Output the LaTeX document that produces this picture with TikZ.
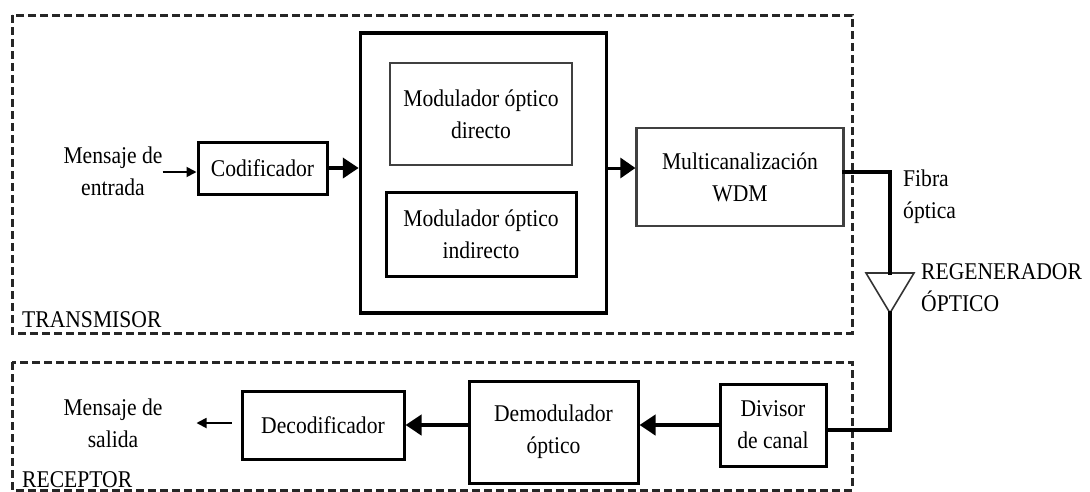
\documentclass[tikz,border=0pt]{standalone}
\usepackage{fontspec}
\setmainfont{Liberation Serif}[FakeStretch=0.9]
\usetikzlibrary{arrows.meta}
\begin{document}
\begin{tikzpicture}[x=1pt,y=-1pt,
  every node/.style={font=\fontsize{24}{32}\selectfont, align=center},
  block/.style={draw=black, line width=3pt, inner sep=2pt},
  lightblock/.style={draw=black!75, line width=2.2pt, inner sep=2pt},
  zone/.style={draw=black!85, line width=3pt, dash pattern=on 8pt off 4pt},
  label/.style={inner sep=0pt},
  bigarrow/.style={line width=4.5pt, -{Triangle[length=16pt,width=20pt]}},
  midarrow/.style={line width=3pt, -{Triangle[length=15pt,width=20pt]}},
  smallarrow/.style={line width=1.8pt, -{Triangle[length=10pt,width=10pt]}},
  fibre/.style={line width=4.5pt, line cap=rect}
]
\useasboundingbox (0,0) rectangle (1090,491);

% transmitter and receiver zones
\draw[zone] (12,15) rectangle (852,333);
\draw[zone] (12,362) rectangle (852,490);
\node[label, anchor=base west] (tx) at (22,327) {TRANSMISOR};
\node[label, anchor=base west] (rx) at (22,487) {RECEPTOR};

% transmitter chain
\node[label] (in) at (113,171) {Mensaje de\\entrada};
\node[block, minimum width=129, minimum height=52] (cod) at (262.5,168) {Codificador};
\node[draw=black, line width=3.5pt, minimum width=246, minimum height=280] (mod) at (483.5,173) {};
\node[lightblock, minimum width=182, minimum height=102] (dir) at (481,114) {Modulador óptico\\directo};
\node[block, minimum width=190, minimum height=84] (ind) at (481,234) {Modulador óptico\\indirecto};
\node[lightblock, minimum width=207, minimum height=98] (wdm) at (740,177) {Multicanalización\\WDM};

\draw[smallarrow] ([yshift=-4pt]cod.west -| in.east) -- ([yshift=-4pt]cod.west);
\draw[bigarrow] (cod.east) -- (mod.west |- cod.east);
\draw[midarrow] (mod.east |- cod.east) -- (wdm.west |- cod.east);

% fibre link and optical regenerator
\coordinate (rtop) at (890,273);
\coordinate (rtip) at (890,313);
\draw[draw=black!80, line width=1.6pt, line join=miter]
  ([xshift=-24pt]rtop) -- ([xshift=24pt]rtop) -- (rtip) -- cycle;
\node[label, anchor=west, align=left] (fib) at (903,196.5) {Fibra\\óptica};
\node[label, anchor=west, align=left] (reg) at (921,288) {REGENERADOR\\ÓPTICO};

% receiver chain
\node[block, minimum width=106, minimum height=82] (div) at (773,425) {Divisor\\de canal};
\node[block, minimum width=169, minimum height=102] (dem) at (553.5,432) {Demodulador\\óptico};
\node[block, minimum width=162, minimum height=68] (dec) at (323,425) {Decodificador};
\node[label] (out) at (113,423) {Mensaje de\\salida};

\draw[fibre] ([yshift=5pt]wdm.east) -| (rtop);
\draw[fibre] (rtip) |- ([yshift=-5pt]div.east);

\draw[bigarrow] (div.west) -- (dem.east |- div.west);
\draw[bigarrow] (dem.west |- div.west) -- (dec.east);
\draw[smallarrow] ([xshift=-9pt,yshift=2pt]dec.west) -- ([xshift=-44pt,yshift=2pt]dec.west);
\end{tikzpicture}
\end{document}
